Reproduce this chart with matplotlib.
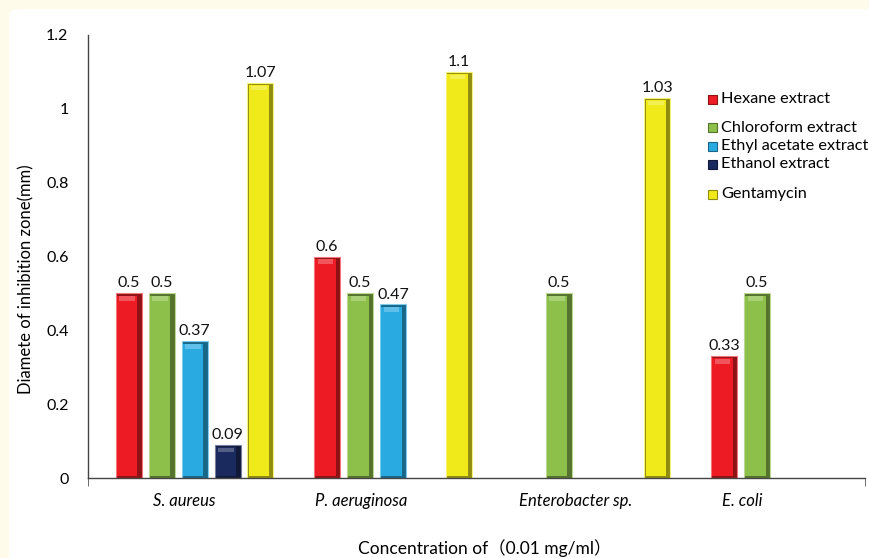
import matplotlib.pyplot as plt
import numpy as np
from matplotlib.patches import FancyBboxPatch, Rectangle
from matplotlib.colors import to_rgb

plt.rcParams["font.family"] = ["Lato", "Noto Sans CJK SC", "DejaVu Sans"]

# inhibition zone diameters (mm); NaN where an extract showed no zone
bacteria = ["S. aureus", "P. aeruginosa", "Enterobacter sp.", "E. coli"]
hexane = [0.5, 0.6, np.nan, 0.33]
chloroform = [0.5, 0.5, 0.5, 0.5]
ethyl_acetate = [0.37, 0.47, np.nan, np.nan]
ethanol = [0.09, np.nan, np.nan, np.nan]
gentamycin = [1.07, 1.1, 1.03, np.nan]

series = [
    ("Hexane extract", hexane, "#ED1C24"),
    ("Chloroform extract", chloroform, "#8DC04A"),
    ("Ethyl acetate extract", ethyl_acetate, "#29ABE2"),
    ("Ethanol extract", ethanol, "#1B2A5E"),
    ("Gentamycin", gentamycin, "#F0EA1A"),
]


def shade(c, f):
    r, g, b = to_rgb(c)
    if f < 1:
        return (r * f, g * f, b * f)
    f = f - 1
    return (r + (1 - r) * f, g + (1 - g) * f, b + (1 - b) * f)


fig = plt.figure(figsize=(8.7, 5.58), dpi=100, facecolor="#FEFBEA")
fig.patches.append(FancyBboxPatch((9 / 870, -0.1), 1.2, 1.1 - 9 / 558,
                                  boxstyle="round,pad=0,rounding_size=0.012",
                                  transform=fig.transFigure, facecolor="white",
                                  edgecolor="none", zorder=-1))

ax = fig.add_axes([88 / 870, 1 - 478 / 558, (865 - 88) / 870, (478 - 35) / 558])
ax.set_facecolor("none")
ax.set_zorder(2)

x = np.arange(len(bacteria))
step = 0.166
width = 0.131
for k, (name, vals, col) in enumerate(series):
    pos = x + (k - 2) * step
    vals = np.array(vals, dtype=float)
    ok = ~np.isnan(vals)
    # dark rim then lighter body for a bevelled look
    ax.bar(pos[ok], vals[ok], width=width, color=shade(col, 0.6),
           edgecolor=shade(col, 1.4), linewidth=0.8, zorder=2)
    ax.bar(pos[ok] - width * 0.06, vals[ok] - 0.012, width=width * 0.78,
           bottom=0.006, color=col, linewidth=0, zorder=3)
    ax.bar(pos[ok] - width * 0.06, np.full(ok.sum(), 0.012), width=width * 0.6,
           bottom=vals[ok] - 0.02, color=shade(col, 1.25), linewidth=0, zorder=4)
    for p, v in zip(pos[ok], vals[ok]):
        ax.text(p, v + 0.008, f"{v:g}", ha="center", va="bottom",
                fontsize=11.5, color="#111111", zorder=5)

ax.set_xlim(-0.537, 3.378)
ax.set_ylim(0, 1.2)
ax.set_yticks(np.arange(0, 1.21, 0.2))
ax.set_yticklabels(["0", "0.2", "0.4", "0.6", "0.8", "1", "1.2"])
ax.tick_params(axis="y", length=0, pad=14, labelsize=11.5)
# category names sit a little off the group centres
ax.set_xticks(x + np.array([-0.053, -0.161, -0.078, -0.242]))
ax.set_xticklabels(bacteria, fontstyle="italic", fontsize=12)
ax.tick_params(axis="x", length=0, pad=11)
ax.set_xticks([-0.537, 3.378], minor=True)
ax.tick_params(axis="x", which="minor", length=6, color="#555555")
for s in ["top", "right"]:
    ax.spines[s].set_visible(False)
for s in ["left", "bottom"]:
    ax.spines[s].set_color("#444444")
    ax.spines[s].set_linewidth(1.0)

ax.set_ylabel("Diamete of inhibition zone(mm)", fontsize=12)
ax.yaxis.set_label_coords(-0.0695, 0.449)
fig.text(485 / 870, 1 - 548 / 558, "Concentration of（0.01 mg/ml）",
         ha="center", va="center", fontsize=12.5)

# legend with uneven row gaps
rows = [99, 128, 146, 164, 194]
for (name, vals, col), yy in zip(series, rows):
    yf = 1 - yy / 558
    fig.patches.append(Rectangle((708 / 870, yf - 4.5 / 558), 9 / 870, 9 / 558,
                                 transform=fig.transFigure, facecolor=col,
                                 edgecolor=shade(col, 0.6), linewidth=0.8))
    fig.text(721 / 870, yf, name, ha="left", va="center", fontsize=11.7)

fig.savefig("out.png", dpi=100, facecolor=fig.get_facecolor())
